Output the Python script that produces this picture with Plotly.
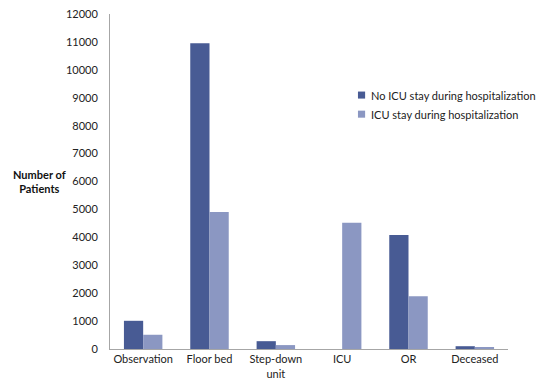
import plotly.graph_objects as go

categories = ["Observation", "Floor bed", "Step-down<br>unit", "ICU", "OR", "Deceased"]
no_icu = [1010, 10950, 280, 0, 4080, 100]
icu = [510, 4910, 140, 4520, 1890, 40]
series_names = ["No ICU stay during hospitalization", "ICU stay during hospitalization"]
colors = ["#485B94", "#8B97C2"]
y_ticks = list(range(0, 12001, 1000))

font = "Lato, Noto Sans, sans-serif"

fig = go.Figure()
for vals, name, col in zip([no_icu, icu], series_names, colors):
    fig.add_trace(go.Bar(x=categories, y=vals, name=name, showlegend=False,
                         marker=dict(color=col, line=dict(width=0))))

# manual legend (small square swatches like the reference)
shapes = []
annotations = []
leg_y = [0.758, 0.701]
for yy, name, col in zip(leg_y, series_names, colors):
    shapes.append(dict(type="rect", xref="paper", yref="paper",
                       x0=0.623, x1=0.641, y0=yy - 0.0105, y1=yy + 0.0105,
                       fillcolor=col, line=dict(width=0)))
    annotations.append(dict(text=name, xref="paper", yref="paper", x=0.650, y=yy,
                            xanchor="left", yanchor="middle", showarrow=False,
                            font=dict(size=11, color="#222222")))

annotations.append(dict(text="<b>Number of<br>Patients</b>", xref="paper", yref="paper",
                        x=-0.176, y=0.501, xanchor="center", yanchor="middle", showarrow=False,
                        font=dict(size=11, color="#111111"), align="center"))

fig.update_layout(
    width=536, height=384,
    margin=dict(l=110, r=28, t=14, b=35, autoexpand=False),
    paper_bgcolor="white", plot_bgcolor="white",
    font=dict(family=font, size=11, color="#222222"),
    barmode="group", bargap=0.42, bargroupgap=0,
    showlegend=False,
    xaxis=dict(showline=True, linecolor="#A6A6A6", linewidth=1, ticks="",
               tickfont=dict(size=11), showgrid=False),
    yaxis=dict(range=[0, 12000], tickvals=y_ticks, ticktext=[str(v) for v in y_ticks],
               showline=True, linecolor="#A6A6A6",
               linewidth=1, ticks="", showgrid=False, zeroline=False,
               tickfont=dict(size=11), ticklabelstandoff=9),
    shapes=shapes,
    annotations=annotations,
)

fig.write_html("out.html", config={"displayModeBar": False},
               post_script="document.body.style.margin='0';document.body.style.overflow='hidden';")
